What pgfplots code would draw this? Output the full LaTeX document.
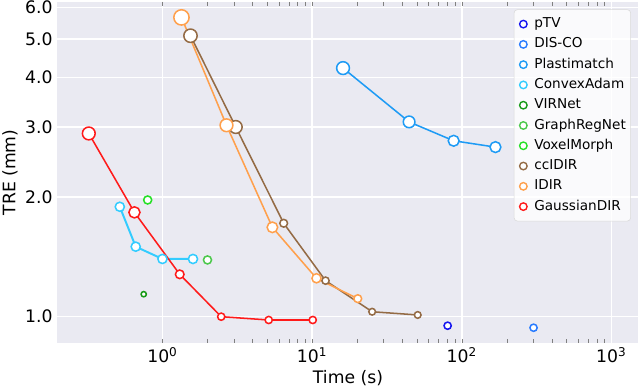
\documentclass[border=0pt]{standalone}
\usepackage{fontspec}
\setmainfont{DejaVu Sans}
\usepackage{pgfplots}
\usepackage{pgfplotstable}
\pgfplotsset{compat=1.18}
\definecolor{bg}{HTML}{EAEAF2}
\definecolor{ptvc}{HTML}{1515F0}
\definecolor{discoc}{HTML}{2A7CFF}
\definecolor{plastc}{HTML}{1E9BF5}
\definecolor{cadamc}{HTML}{33CCFF}
\definecolor{virc}{HTML}{179A17}
\definecolor{grnc}{HTML}{4CC84C}
\definecolor{voxc}{HTML}{26E026}
\definecolor{ccidirc}{HTML}{946B45}
\definecolor{idirc}{HTML}{FFA04C}
\definecolor{gaussc}{HTML}{FF1A1A}

% time (s), TRE (mm), marker radius (pt)
\pgfplotstableread{
x y r
0.322 2.89 4.6
0.650 1.83 4.0
1.305 1.278 3.1
2.47 1.0 2.6
5.13 0.981 2.6
10.1 0.981 2.6
}\gaussdir
\pgfplotstableread{
x y r
0.519 1.89 3.3
0.663 1.50 3.3
1.0 1.397 3.3
1.60 1.397 3.3
}\convexadam
\pgfplotstableread{
x y r
0.75 1.139 1.9
}\virnet
\pgfplotstableread{
x y r
0.797 1.966 2.9
}\voxelmorph
\pgfplotstableread{
x y r
2.0 1.389 2.9
}\graphregnet
\pgfplotstableread{
x y r
1.54 5.09 4.8
3.09 3.0 4.6
6.46 1.718 2.8
12.3 1.232 2.6
25.2 1.029 2.4
50.8 1.01 2.4
}\ccidir
\pgfplotstableread{
x y r
1.34 5.66 5.5
2.68 3.03 4.6
5.43 1.678 3.8
10.7 1.249 3.3
20.2 1.11 2.8
}\idir
\pgfplotstableread{
x y r
16.1 4.22 4.6
44.5 3.09 4.2
88.3 2.77 3.9
168 2.67 3.9
}\plastimatch
\pgfplotstableread{
x y r
80.5 0.949 2.6
}\ptv
\pgfplotstableread{
x y r
302 0.938 2.6
}\disco

\pgfplotsset{
  pts/.style={scatter, only marks, mark=*, line width=1.1pt, forget plot,
    scatter/use mapped color={draw=#1, fill=white},
    visualization depends on={\thisrow{r}\as\rr},
    scatter/@pre marker code/.append style={/tikz/mark size=\rr pt}},
  lin/.style={#1, line width=1.1pt, no markers, forget plot},
  legc/.style={legend image code/.code={\draw[#1, line width=1pt, fill=white] (0pt,0pt) circle (2.7pt);}},
}

\begin{document}
\begin{tikzpicture}
\useasboundingbox (-41.4pt,-32.4pt) rectangle (419.4pt,246.9pt);
\begin{axis}[
  at={(0,0)}, anchor=south west,
  scale only axis, width=418.3pt, height=245.5pt,
  xmode=log, ymode=log,
  xmin=0.199, xmax=1517, ymin=0.859, ymax=6.19,
  xtick={1,10,100,1000},
  xticklabels={10\textsuperscript{0},10\textsuperscript{1},10\textsuperscript{2},10\textsuperscript{3}},
  ytick={1,2,3,4,5,6},
  yticklabels={1.0,2.0,3.0,4.0,5.0,6.0},
  minor xtick={}, minor ytick={},
  grid=major, grid style={white, line width=1.1pt},
  axis background/.style={fill=bg},
  axis line style={draw=none},
  major tick length=0pt,
  tick label style={font=\fontsize{12.4}{14}\selectfont},
  label style={font=\fontsize{12.4}{14}\selectfont},
  xlabel={Time (s)}, ylabel={TRE (mm)},
  xlabel style={at={(axis description cs:0.5,-0.1026)}, anchor=center},
  ylabel style={at={(axis description cs:-0.0818,0.5)}, anchor=center},
  legend cell align=left,
  legend style={at={(1,1)}, anchor=north east, xshift=-5.4pt, yshift=-5.3pt,
    font=\fontsize{9.8}{11}\selectfont,
    draw=black!15, rounded corners=2.5pt, fill=white, fill opacity=0.8, text opacity=1,
    inner xsep=3.5pt, inner ysep=5.5pt, row sep=4.7pt, column sep=4.7pt,
    nodes={inner sep=0pt, text height=7.5pt, text depth=2.4pt},
    cells={anchor=west}},
]
\addplot[pts=ptvc] table[x=x,y=y] {\ptv};
\addplot[pts=discoc] table[x=x,y=y] {\disco};
\addplot[lin=plastc] table[x=x,y=y] {\plastimatch};
\addplot[pts=plastc] table[x=x,y=y] {\plastimatch};
\addplot[lin=cadamc, line width=1.4pt] table[x=x,y=y] {\convexadam};
\addplot[pts=cadamc] table[x=x,y=y] {\convexadam};
\addplot[pts=virc] table[x=x,y=y] {\virnet};
\addplot[pts=grnc] table[x=x,y=y] {\graphregnet};
\addplot[pts=voxc] table[x=x,y=y] {\voxelmorph};
\addplot[lin=ccidirc] table[x=x,y=y] {\ccidir};
\addplot[pts=ccidirc] table[x=x,y=y] {\ccidir};
\addplot[lin=idirc] table[x=x,y=y] {\idir};
\addplot[pts=idirc] table[x=x,y=y] {\idir};
\addplot[lin=gaussc] table[x=x,y=y] {\gaussdir};
\addplot[pts=gaussc] table[x=x,y=y] {\gaussdir};

\addlegendimage{legc=ptvc}\addlegendentry{pTV}
\addlegendimage{legc=discoc}\addlegendentry{DIS-CO}
\addlegendimage{legc=plastc}\addlegendentry{Plastimatch}
\addlegendimage{legc=cadamc}\addlegendentry{ConvexAdam}
\addlegendimage{legc=virc}\addlegendentry{VIRNet}
\addlegendimage{legc=grnc}\addlegendentry{GraphRegNet}
\addlegendimage{legc=voxc}\addlegendentry{VoxelMorph}
\addlegendimage{legc=ccidirc}\addlegendentry{ccIDIR}
\addlegendimage{legc=idirc}\addlegendentry{IDIR}
\addlegendimage{legc=gaussc}\addlegendentry{GaussianDIR}
\end{axis}
\end{tikzpicture}
\end{document}
